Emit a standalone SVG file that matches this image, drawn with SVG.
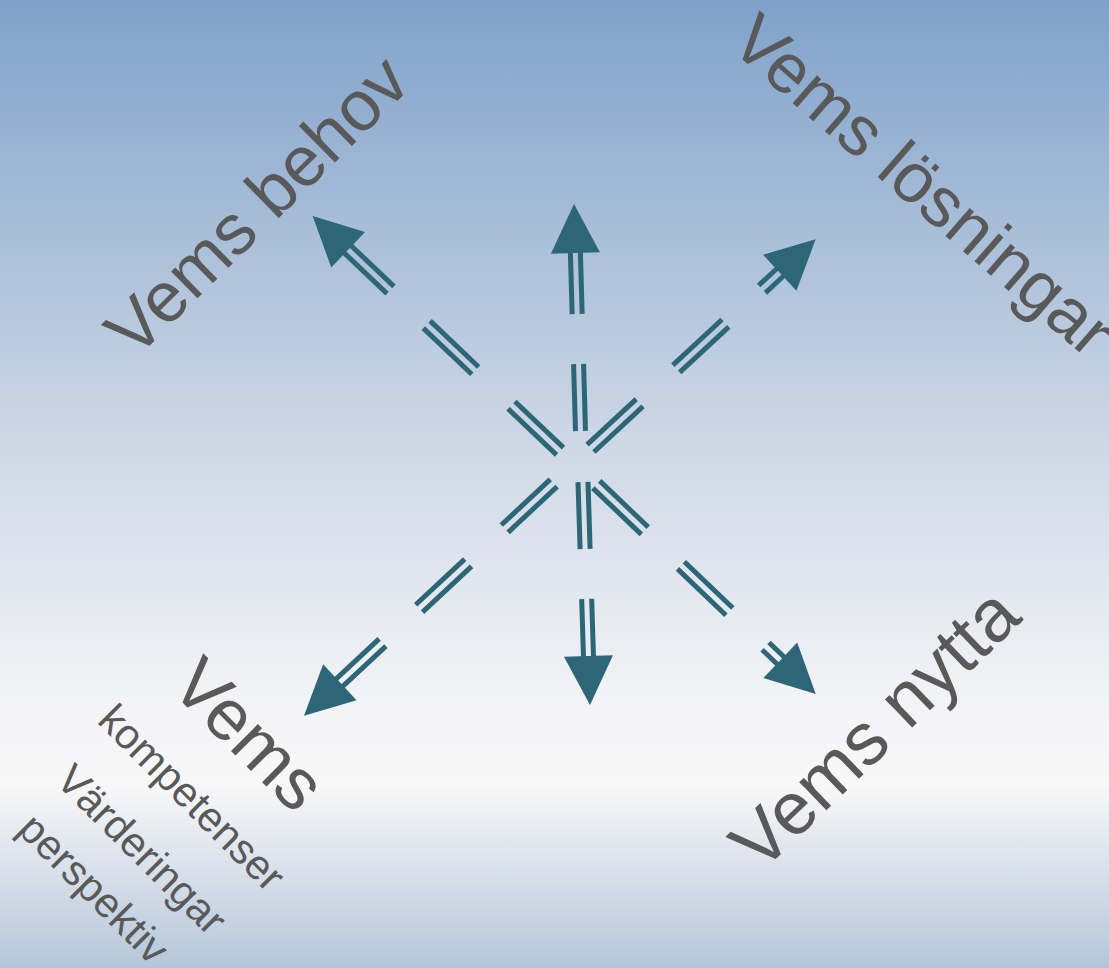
<svg xmlns="http://www.w3.org/2000/svg" width="1109" height="968" viewBox="0 0 1109 968">
<defs>
<linearGradient id="bg" x1="0" y1="0" x2="0" y2="1">
<stop offset="0" stop-color="#7FA2CA"/>
<stop offset="0.45" stop-color="#CDD7E5"/>
<stop offset="0.72" stop-color="#F2F3F6"/>
<stop offset="0.81" stop-color="#F8F8F9"/>
<stop offset="1" stop-color="#B5C6DA"/>
</linearGradient>
<style>
.shaft{stroke:#2D6677;stroke-width:5;stroke-dasharray:67 50;fill:none}
.head{fill:#2D6677}
.big{font-family:"Liberation Sans",Arial,sans-serif;fill:#595959}
.small{font-family:"Liberation Sans",Arial,sans-serif;font-size:42px;fill:#595959}
</style>
</defs>
<rect width="1109" height="968" fill="url(#bg)"/>
<g id="connectors">
<g id="arrow-ul" transform="translate(560,451.3) rotate(-136.43)">
<line class="shaft" x1="0" y1="-5" x2="293" y2="-5"/><line class="shaft" x1="0" y1="5" x2="293" y2="5"/>
<polygon class="head" points="341.4,0 292.4,-24.5 292.4,24.5"/>
</g>
<g id="arrow-up" transform="translate(580.5,431) rotate(-91.64)">
<line class="shaft" x1="0" y1="-5" x2="179" y2="-5"/><line class="shaft" x1="0" y1="5" x2="179" y2="5"/>
<polygon class="head" points="227.1,0 178.1,-24.5 178.1,24.5"/>
</g>
<g id="arrow-ur" transform="translate(590.5,448.3) rotate(-42.86)">
<line class="shaft" x1="0" y1="-5" x2="259" y2="-5"/><line class="shaft" x1="0" y1="5" x2="259" y2="5"/>
<polygon class="head" points="307.2,0 258.2,-24.5 258.2,24.5"/>
</g>
<g id="arrow-dl" transform="translate(553.7,483) rotate(137.02)">
<line class="shaft" x1="0" y1="-5" x2="293" y2="-5"/><line class="shaft" x1="0" y1="5" x2="293" y2="5"/>
<polygon class="head" points="341.3,0 292.3,-24.5 292.3,24.5"/>
</g>
<g id="arrow-down" transform="translate(583,482) rotate(88.2)">
<line class="shaft" x1="0" y1="-5" x2="175" y2="-5"/><line class="shaft" x1="0" y1="5" x2="175" y2="5"/>
<polygon class="head" points="223.1,0 174.1,-24.5 174.1,24.5"/>
</g>
<g id="arrow-dr" transform="translate(596.3,484.5) rotate(43.68)">
<line class="shaft" x1="0" y1="-5" x2="255" y2="-5"/><line class="shaft" x1="0" y1="5" x2="255" y2="5"/>
<polygon class="head" points="303.4,0 254.4,-24.5 254.4,24.5"/>
</g>
</g>
<g id="label-behov"><text class="big" font-size="71" transform="translate(134.9,359.9) rotate(-44.6)">Vems behov</text></g>
<g id="label-losningar"><text class="big" font-size="70" transform="translate(727.4,46.4) rotate(41)">Vems lösningar</text></g>
<g id="label-nytta"><text class="big" font-size="74" transform="translate(760.6,873.8) rotate(-44)">Vems nytta</text></g>
<g id="label-vems">
<text class="big" font-size="72" transform="translate(168,688) rotate(45)">Vems</text>
<text class="small" transform="translate(96,722) rotate(45)">kompetenser</text>
<text class="small" transform="translate(54,782) rotate(45)">Värderingar</text>
<text class="small" transform="translate(16,831) rotate(45)">perspektiv</text>
</g>
</svg>
